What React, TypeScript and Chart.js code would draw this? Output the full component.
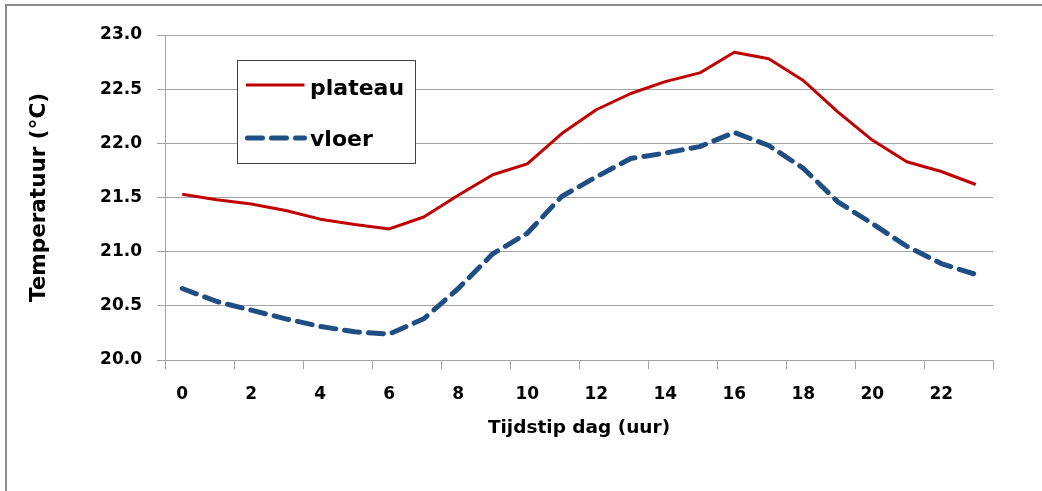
import React, { useEffect, useRef } from "react";
import { Chart, registerables } from "chart.js";

Chart.register(...registerables);

// ---- data ----
const hours: string[] = [
  "0", "1", "2", "3", "4", "5", "6", "7", "8", "9", "10", "11",
  "12", "13", "14", "15", "16", "17", "18", "19", "20", "21", "22", "23",
];
const plateau: number[] = [
  21.53, 21.48, 21.44, 21.38, 21.3, 21.25, 21.21, 21.32, 21.52, 21.71, 21.81, 22.09,
  22.31, 22.46, 22.57, 22.65, 22.84, 22.78, 22.58, 22.29, 22.03, 21.83, 21.74, 21.62,
];
const vloer: number[] = [
  20.66, 20.54, 20.46, 20.38, 20.31, 20.26, 20.24, 20.38, 20.66, 20.98, 21.17, 21.51,
  21.69, 21.86, 21.91, 21.97, 22.1, 21.98, 21.77, 21.46, 21.26, 21.05, 20.89, 20.79,
];
const seriesNames: string[] = ["plateau", "vloer"];
const yMin = 20;
const yMax = 23;
const yStep = 0.5;
const xTitle = "Tijdstip dag (uur)";
const yTitle = "Temperatuur (°C)";

const FONT = "'DejaVu Sans', sans-serif";
const GRID = "#a3a3a3";
const RED = "#C00000";
const BLUE = "#1F4E85";

export default function App() {
  const ref = useRef<HTMLCanvasElement | null>(null);

  useEffect(() => {
    const frame = {
      id: "frame",
      beforeDraw(chart: any) {
        const ctx = chart.ctx;
        ctx.save();
        ctx.fillStyle = "#8c8c8c";
        ctx.fillRect(5, 4, 2, 487);
        ctx.fillRect(5, 4, 1037, 2);
        ctx.restore();
      },
    };

    const legendBox = {
      id: "legendBox",
      afterDatasetsDraw(chart: any) {
        const ctx = chart.ctx;
        const area = chart.chartArea;
        const L = area.left + 72;
        const T = area.top + 25;
        const W = 178;
        const H = 103;
        ctx.save();
        ctx.fillStyle = "#ffffff";
        ctx.fillRect(L, T, W, H);
        ctx.strokeStyle = "#404040";
        ctx.lineWidth = 1;
        ctx.strokeRect(L + 0.5, T + 0.5, W, H);
        const rows = [
          { y: T + 25, base: T + 35 },
          { y: T + 78, base: T + 86 },
        ];
        chart.data.datasets.forEach((ds: any, i: number) => {
          const r = rows[i];
          ctx.save();
          ctx.strokeStyle = ds.borderColor;
          ctx.lineWidth = ds.borderWidth;
          ctx.lineCap = ds.borderCapStyle || "butt";
          ctx.setLineDash(ds.borderDash || []);
          ctx.beginPath();
          const x0 = ds.borderDash ? L + 10.5 : L + 9;
          ctx.moveTo(x0, r.y);
          ctx.lineTo(L + 67.5, r.y);
          ctx.stroke();
          ctx.restore();
          ctx.fillStyle = "#000";
          ctx.font = `bold 22px ${FONT}`;
          ctx.textBaseline = "alphabetic";
          ctx.textAlign = "left";
          ctx.fillText(ds.label, L + 73, r.base);
        });
        ctx.restore();
      },
    };

    const chart = new Chart(ref.current as HTMLCanvasElement, {
      type: "line",
      data: {
        labels: hours,
        datasets: [
          {
            label: seriesNames[0],
            data: plateau,
            borderColor: RED,
            backgroundColor: RED,
            borderWidth: 3,
            pointRadius: 0,
            tension: 0,
            borderJoinStyle: "round",
          },
          {
            label: seriesNames[1],
            data: vloer,
            borderColor: BLUE,
            backgroundColor: BLUE,
            borderWidth: 5,
            borderDash: [15, 9],
            borderCapStyle: "round",
            pointRadius: 0,
            tension: 0,
            borderJoinStyle: "round",
          },
        ],
      },
      options: {
        responsive: false,
        animation: false,
        devicePixelRatio: 1,
        layout: { padding: { left: 0, right: 49, top: 35, bottom: 0 } },
        plugins: {
          legend: { display: false },
          tooltip: { enabled: false },
        },
        scales: {
          x: {
            type: "category",
            offset: true,
            grid: {
              offset: true,
              drawOnChartArea: false,
              drawTicks: true,
              tickLength: 9,
              tickWidth: 1,
              tickColor: (c: any) =>
                c.index === undefined || c.index % 2 === 0 ? GRID : "rgba(0,0,0,0)",
            },
            border: { display: true, color: GRID, width: 1 },
            ticks: {
              autoSkip: false,
              maxRotation: 0,
              minRotation: 0,
              padding: 15,
              color: "#000",
              font: { family: FONT, weight: "bold", size: 17 },
              callback: (_v: any, i: number) => (i % 2 === 0 ? hours[i] : ""),
            },
            title: {
              display: true,
              text: xTitle,
              color: "#000",
              font: { family: FONT, weight: "bold", size: 18.5 },
              padding: { top: 0, bottom: 52 },
            },
            afterFit: (s: any) => {
              s.height = 131;
            },
          } as any,
          y: {
            min: yMin,
            max: yMax,
            grid: { color: GRID, tickLength: 8, tickColor: GRID, lineWidth: 1 },
            border: { display: true, color: GRID, width: 1 },
            ticks: {
              stepSize: yStep,
              padding: 15,
              color: "#000",
              font: { family: FONT, weight: "bold", size: 17 },
              callback: (v: any) => Number(v).toFixed(1),
            },
            title: {
              display: true,
              text: yTitle,
              color: "#000",
              font: { family: FONT, weight: "bold", size: 21.5 },
              padding: { top: 27, bottom: 0 },
            },
            afterFit: (s: any) => {
              s.width = 165;
            },
          } as any,
        },
      },
      plugins: [frame, legendBox],
    });

    return () => chart.destroy();
  }, []);

  return (
    <div
      style={{
        position: "absolute",
        left: 0,
        top: 0,
        width: 1042,
        height: 491,
        background: "#fff",
      }}
    >
      <canvas
        ref={ref}
        width={1042}
        height={491}
        style={{ display: "block", width: 1042, height: 491 }}
      />
    </div>
  );
}
